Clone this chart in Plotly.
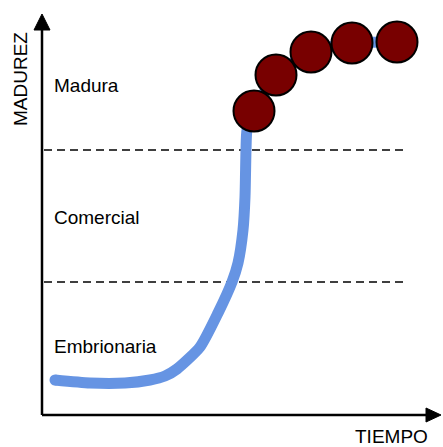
import plotly.graph_objects as go

# S-curve (technology maturity vs. time), conceptual units 0-100
curve_x = [3.25, 12, 20.75, 27, 30.75, 33.75, 39.5, 44, 47.5, 49, 50.25, 50.75, 51, 51.25, 53, 58.5, 67.25, 77.5, 88.75]
curve_y = [8.75, 8.0, 8.0, 8.75, 9.75, 11.5, 17, 25.5, 33.25, 38, 46.25, 54.5, 66.25, 71.25, 76, 85, 90.75, 93, 93.25]

# Maturity points
point_x = [53, 58.5, 67.25, 77.5, 88.75]
point_y = [76, 85, 90.75, 93, 93.25]

# Phase boundaries and labels
boundary_y = [33.25, 66.25]
boundary_x_end = 90.25
phase_labels = ["Madura", "Comercial", "Embrionaria"]
phase_label_y = [82.5, 49.5, 17.25]

axis_title_x = "TIEMPO"
axis_title_y = "MADUREZ"

FONT = "Liberation Sans, Arial, sans-serif"

fig = go.Figure()

# blue S-curve
fig.add_trace(go.Scatter(
    x=curve_x, y=curve_y, mode="lines",
    line=dict(color="#6694E3", width=11, shape="spline", smoothing=0.6),
    hoverinfo="skip", showlegend=False))
# round cap at the start
fig.add_trace(go.Scatter(
    x=curve_x[:1], y=curve_y[:1], mode="markers",
    marker=dict(color="#6694E3", size=11, line=dict(width=0)),
    hoverinfo="skip", showlegend=False))

# red circles
fig.add_trace(go.Scatter(
    x=point_x, y=point_y, mode="markers",
    marker=dict(color="#780000", size=41, line=dict(color="black", width=2)),
    showlegend=False))

shapes = []
for by in boundary_y:
    shapes.append(dict(type="line", xref="x", yref="y", x0=0.5, x1=boundary_x_end, y0=by, y1=by,
                       line=dict(color="black", width=1.5, dash="8px,5px"), layer="below"))
# axes
shapes.append(dict(type="line", xref="x", yref="y", x0=0, x1=0, y0=0, y1=97,
                   line=dict(color="black", width=2.5)))
shapes.append(dict(type="line", xref="x", yref="y", x0=0, x1=97, y0=0, y1=0,
                   line=dict(color="black", width=2.5)))
# arrowheads
shapes.append(dict(type="path", xref="x", yref="y",
                   path="M -2,96.25 L 0,100.25 L 2,96.25 Z",
                   fillcolor="black", line=dict(color="black", width=1)))
shapes.append(dict(type="path", xref="x", yref="y",
                   path="M 96,1.75 L 99.75,0 L 96,-1.75 Z",
                   fillcolor="black", line=dict(color="black", width=1)))

annotations = []
for lab, ly in zip(phase_labels, phase_label_y):
    annotations.append(dict(x=2.5, y=ly, text=lab, showarrow=False, xref="x", yref="y",
                            xanchor="left", yanchor="middle",
                            font=dict(family=FONT, size=19, color="black")))
annotations.append(dict(x=-5.5, y=84, text=axis_title_y, showarrow=False, textangle=-90,
                        xref="x", yref="y", xanchor="center", yanchor="middle",
                        font=dict(family=FONT, size=19, color="black")))
annotations.append(dict(x=87.25, y=-5.4, text=axis_title_x, showarrow=False,
                        xref="x", yref="y", xanchor="center", yanchor="middle",
                        font=dict(family=FONT, size=19, color="black")))

fig.update_layout(
    width=443, height=447,
    margin=dict(l=0, r=0, t=0, b=0),
    paper_bgcolor="white", plot_bgcolor="white",
    xaxis=dict(range=[-10.5, 100.25], visible=False, fixedrange=True),
    yaxis=dict(range=[-8, 103.75], visible=False, fixedrange=True),
    shapes=shapes, annotations=annotations,
    showlegend=False,
)

fig.write_html("out.html", config={"displayModeBar": False},
               post_script="document.body.style.margin='0';document.body.style.overflow='hidden';")
